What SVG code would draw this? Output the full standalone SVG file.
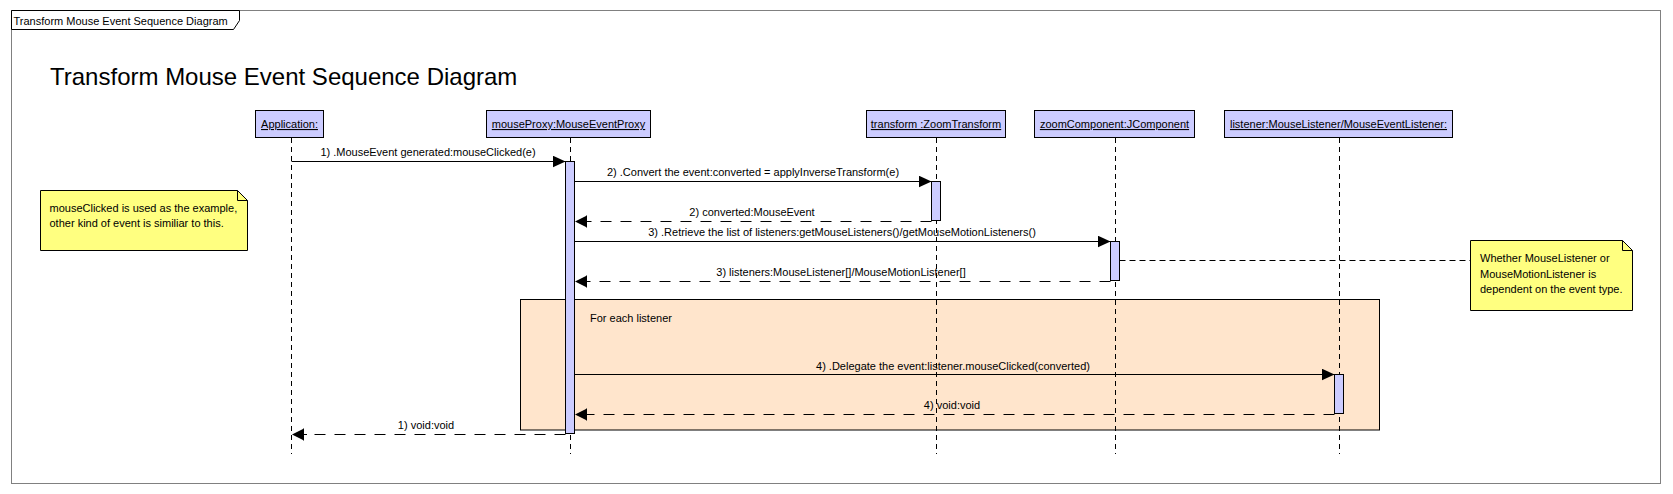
<svg xmlns="http://www.w3.org/2000/svg" width="1673" height="494" viewBox="0 0 1673 494">
<style>
text{font-family:"Liberation Sans",Arial,sans-serif;font-size:11px;fill:#000}
.title{font-size:24px}
.obj{fill:#ccccff;stroke:#000;stroke-width:1}
.lbl{text-anchor:middle;text-decoration:underline}
.life{stroke:#000;stroke-width:1;stroke-dasharray:5 4;fill:none}
.act{fill:#ccccff;stroke:#000;stroke-width:1}
.note{fill:#ffff80;stroke:#000;stroke-width:1}
.fold{fill:none;stroke:#000;stroke-width:1}
.call{stroke:#000;stroke-width:1;fill:none;marker-end:url(#callHead)}
.ret{stroke:#000;stroke-width:1;fill:none;stroke-dasharray:11 9;marker-end:url(#retHead)}
.msg{text-anchor:middle}
.anchor{stroke:#000;stroke-width:1;stroke-dasharray:6 4;fill:none}
</style>
<defs>
<marker id="callHead" viewBox="0 0 14 12" markerWidth="14" markerHeight="12" refX="13" refY="6" orient="auto" markerUnits="userSpaceOnUse">
<path d="M0,0 L13,6 L0,12 z" fill="#000" stroke="none"/>
</marker>
<marker id="retHead" viewBox="0 0 16 14" markerWidth="16" markerHeight="14" refX="15" refY="7" orient="auto" markerUnits="userSpaceOnUse">
<path d="M15,7 L4,1.5 L4,12.5 z" fill="#000" stroke="none"/>
<path d="M3.5,1 V13 M0,7 H4" fill="none" stroke="#000" stroke-width="1"/>
</marker>
</defs>
<rect x="0" y="0" width="1673" height="494" fill="#fff"/>
<g id="frame">
<rect x="11.5" y="10.5" width="1649" height="473" fill="#fff" stroke="#808080" stroke-width="1"/>
<path d="M11.5,10.5 H239.5 V20.5 L233.5,29.5 H11.5 z" fill="#fff" stroke="#000" stroke-width="1"/>
<text x="13.5" y="25">Transform Mouse Event Sequence Diagram</text>
</g>
<text class="title" x="50" y="85">Transform Mouse Event Sequence Diagram</text>
<g id="fragment-for-each-listener">
<rect x="520.5" y="299.5" width="859" height="130.5" fill="#ffe5cc" stroke="#000" stroke-width="1"/>
<text x="590" y="322">For each listener</text>
</g>
<g id="application">
<rect class="obj" x="255.5" y="110.5" width="68" height="27"/>
<text class="lbl" x="289.5" y="128">Application:</text>
<line class="life" x1="291.5" y1="138" x2="291.5" y2="454"/>
</g>
<g id="mouseProxy">
<rect class="obj" x="486.5" y="110.5" width="164" height="27"/>
<text class="lbl" x="568.5" y="128">mouseProxy:MouseEventProxy</text>
<line class="life" x1="570.5" y1="138" x2="570.5" y2="454"/>
<rect class="act" x="565.5" y="161.5" width="9" height="272"/>
</g>
<g id="transform">
<rect class="obj" x="866.5" y="110.5" width="139" height="27"/>
<text class="lbl" x="936" y="128">transform :ZoomTransform</text>
<line class="life" x1="936.5" y1="138" x2="936.5" y2="454"/>
<rect class="act" x="931.5" y="181.5" width="9" height="39"/>
</g>
<g id="zoomComponent">
<rect class="obj" x="1034.5" y="110.5" width="160" height="27"/>
<text class="lbl" x="1114.5" y="128">zoomComponent:JComponent</text>
<line class="life" x1="1115.5" y1="138" x2="1115.5" y2="454"/>
<rect class="act" x="1110.5" y="241.5" width="9" height="39"/>
</g>
<g id="listener">
<rect class="obj" x="1224.5" y="110.5" width="228" height="27"/>
<text class="lbl" x="1338.5" y="128">listener:MouseListener/MouseEventListener:</text>
<line class="life" x1="1339.5" y1="138" x2="1339.5" y2="454"/>
<rect class="act" x="1334.5" y="374.5" width="9" height="39"/>
</g>
<g id="note-mouseClicked">
<path class="note" d="M40.5,190.5 H237.5 L247.5,200.5 V250.5 H40.5 z"/>
<path class="fold" d="M237.5,190.5 V200.5 H247.5"/>
<text x="49.5" y="212">mouseClicked is used as the example,</text>
<text x="49.5" y="227">other kind of event is similiar to this.</text>
</g>
<g id="note-listener-type">
<path class="note" d="M1470.5,240.5 H1622.5 L1632.5,250.5 V310.5 H1470.5 z"/>
<path class="fold" d="M1622.5,240.5 V250.5 H1632.5"/>
<text x="1480" y="262">Whether MouseListener or</text>
<text x="1480" y="277.5">MouseMotionListener is</text>
<text x="1480" y="293">dependent on the event type.</text>
</g>
<g id="connectors">
<line class="call" x1="291.5" y1="161.5" x2="565.5" y2="161.5"/>
<text class="msg" x="428" y="156">1) .MouseEvent generated:mouseClicked(e)</text>
<line class="call" x1="574.5" y1="181.5" x2="931.5" y2="181.5"/>
<text class="msg" x="753" y="176">2) .Convert the event:converted = applyInverseTransform(e)</text>
<line class="ret" x1="931.5" y1="221.5" x2="575" y2="221.5"/>
<text class="msg" x="752" y="216">2) converted:MouseEvent</text>
<line class="call" x1="574.5" y1="241.5" x2="1110.5" y2="241.5"/>
<text class="msg" x="842" y="236">3) .Retrieve the list of listeners:getMouseListeners()/getMouseMotionListeners()</text>
<line class="ret" x1="1110.5" y1="281.5" x2="575" y2="281.5"/>
<text class="msg" x="841" y="276">3) listeners:MouseListener[]/MouseMotionListener[]</text>
<line class="call" x1="574.5" y1="374.5" x2="1334.5" y2="374.5"/>
<text class="msg" x="953" y="369.5">4) .Delegate the event:listener.mouseClicked(converted)</text>
<line class="ret" x1="1334.5" y1="414.5" x2="575" y2="414.5"/>
<text class="msg" x="952" y="409">4) void:void</text>
<line class="ret" x1="565.5" y1="434.5" x2="292" y2="434.5"/>
<text class="msg" x="426" y="429">1) void:void</text>
<line class="anchor" x1="1119.5" y1="260.5" x2="1470.5" y2="260.5"/>
</g>
</svg>
